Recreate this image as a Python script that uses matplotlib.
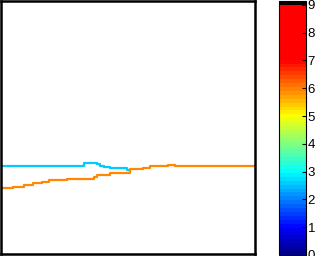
import numpy as np
import matplotlib
matplotlib.use("Agg")
import matplotlib.pyplot as plt
from matplotlib.colors import ListedColormap, Normalize
from matplotlib.cm import ScalarMappable

# contour level lines (x start of each step, y level), last x is the end point
cyan_x = [0, 32.7, 34.6, 37.8, 39.0, 40.6, 42.9, 49.6, 50.0]
cyan_y = [34.6, 35.8, 36.0, 35.4, 34.8, 34.2, 33.8, 33.2, 33.2]
orange_x = [0, 4.7, 9.1, 12.6, 16.1, 18.9, 22.0, 26.0, 36.6, 37.8, 42.9, 50.8,
            55.9, 58.7, 65.7, 68.5, 100]
orange_y = [25.9, 26.5, 27.1, 27.9, 28.3, 29.1, 29.4, 29.8, 30.4, 31.2, 32.2,
            33.4, 33.8, 34.6, 35.0, 34.6, 34.6]
cbar_ticks = [0, 1, 2, 3, 4, 5, 6, 7, 8, 9]

plt.rcParams['font.family'] = ['Liberation Sans', 'DejaVu Sans']
fig = plt.figure(figsize=(3.26, 2.56), dpi=100)

ax = fig.add_axes([0.004, 0.008, 0.778, 0.988])
ax.step(cyan_x, cyan_y, where='post', color='#00CCFF', lw=1.6)
ax.step(orange_x, orange_y, where='post', color='#FF8800', lw=1.6)
ax.set_xlim(0, 100)
ax.set_ylim(0, 100)
ax.set_xticks([])
ax.set_yticks([])
for s in ax.spines.values():
    s.set_linewidth(1.8)

# colorbar: MATLAB-jet bands over 0..8 (red held above 7) with black cap above 9
band = 9 / 64
nb = 65
centers = (np.arange(nb) + 0.5) * band
t = np.minimum(centers / 8, 7 / 8)
r = np.clip(1.5 - np.abs(4 * t - 3), 0, 1)
g = np.clip(1.5 - np.abs(4 * t - 2), 0, 1)
b = np.clip(1.5 - np.abs(4 * t - 1), 0, 1)
colors = np.column_stack([r, g, b, np.ones(nb)])
colors[-1] = [0, 0, 0, 1]
cmap = ListedColormap(colors)
norm = Normalize(vmin=0, vmax=nb * band)
cax = fig.add_axes([0.856, 0.004, 0.083, 0.992])
cb = fig.colorbar(ScalarMappable(norm=norm, cmap=cmap), cax=cax, ticks=cbar_ticks)
cb.outline.set_linewidth(0.8)
cax.tick_params(direction='in', length=3, width=0.8, labelsize=9.5, pad=1)

fig.savefig('out.png', dpi=100)
